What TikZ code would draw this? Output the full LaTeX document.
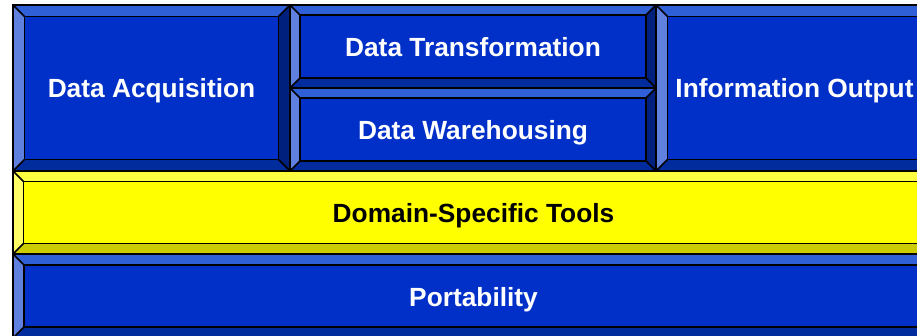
\documentclass[tikz,border=0pt]{standalone}
\usepackage{fontspec}
\setmainfont{Liberation Sans}

% bevel palettes: face, top, left, right, bottom
\definecolor{bluefa}{HTML}{0030C8}
\definecolor{bluetp}{HTML}{3060D8}
\definecolor{bluelf}{HTML}{6080E0}
\definecolor{bluert}{HTML}{00207E}
\definecolor{bluebt}{HTML}{002C9E}
\definecolor{yelfa}{HTML}{FFFF00}
\definecolor{yeltp}{HTML}{FFFF40}
\definecolor{yellf}{HTML}{FFFF66}
\definecolor{yelrt}{HTML}{999900}
\definecolor{yelbt}{HTML}{CCCC00}

\tikzset{
  edge/.style={draw=black, line width=1.5pt, line join=miter},
  bluetext/.style={text=white, font=\fontsize{26.3}{30}\selectfont\bfseries, inner sep=0pt},
  yeltext/.style={text=black, font=\fontsize{26.3}{30}\selectfont\bfseries, inner sep=0pt},
}

% \bevelbox{name}{x1}{y1}{x2}{y2}{bevel}{palette}{label}
\newcommand\bevelbox[8]{%
  \fill[#7tp] (#2,#3) -- (#4,#3) -- (#4-#6,#3+#6) -- (#2+#6,#3+#6) -- cycle;
  \fill[#7lf] (#2,#3) -- (#2+#6,#3+#6) -- (#2+#6,#5-#6) -- (#2,#5) -- cycle;
  \fill[#7rt] (#4,#3) -- (#4,#5) -- (#4-#6,#5-#6) -- (#4-#6,#3+#6) -- cycle;
  \fill[#7bt] (#2,#5) -- (#2+#6,#5-#6) -- (#4-#6,#5-#6) -- (#4,#5) -- cycle;
  \fill[#7fa] (#2+#6,#3+#6) rectangle (#4-#6,#5-#6);
  \draw[edge] (#2,#3) rectangle (#4,#5);
  \draw[edge] (#2+#6,#3+#6) rectangle (#4-#6,#5-#6);
  \draw[edge] (#2,#3) -- (#2+#6,#3+#6) (#4,#3) -- (#4-#6,#3+#6)
              (#2,#5) -- (#2+#6,#5-#6) (#4,#5) -- (#4-#6,#5-#6);
  \node[#7text, anchor=base] (#1) at ({(#2+#4)/2},{(#3+#5)/2+10}) {#8};
}

\begin{document}
\begin{tikzpicture}[x=1pt, y=-1pt]
  \useasboundingbox (0,0) rectangle (917,336);
  \clip (0,0) rectangle (917,336);
  \fill[white] (0,0) rectangle (917,336);

  % top row
  \bevelbox{acq}{13}{5}{290}{171}{11.5}{blue}{Data Acquisition}
  \bevelbox{trans}{290}{5}{656}{88}{10}{blue}{Data Transformation}
  \bevelbox{ware}{290}{88}{656}{171}{10}{blue}{Data Warehousing}
  \bevelbox{out}{656}{5}{933}{171}{11.5}{blue}{Information Output}

  % layers underneath
  \bevelbox{tools}{13}{171}{934}{254}{10.5}{yel}{Domain-Specific Tools}
  \bevelbox{port}{13}{254}{934}{338}{11}{blue}{Portability}
\end{tikzpicture}
\end{document}
